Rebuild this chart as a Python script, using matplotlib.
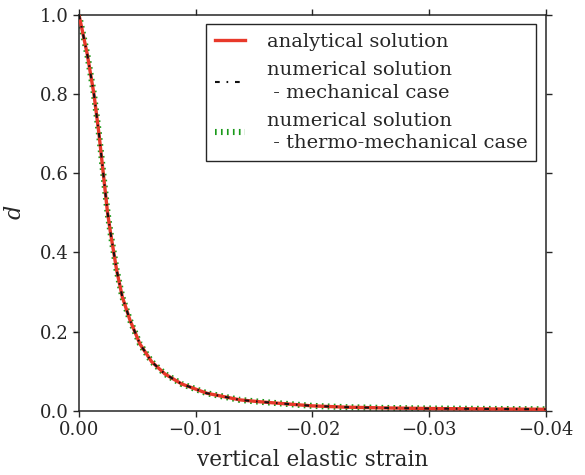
import matplotlib
matplotlib.use("Agg")
import matplotlib.pyplot as plt

# Damage variable d versus vertical elastic strain
strain = [0.0, -0.00071, -0.00128, -0.00171, -0.00208, -0.00245,
          -0.00271, -0.00323, -0.00371, -0.00437, -0.00522, -0.00623,
          -0.00737, -0.0088, -0.01094, -0.0138, -0.0155, -0.0178, -0.0200,
          -0.0229, -0.0260, -0.0301, -0.0350, -0.0386, -0.0400]
damage = [1.0, 0.9, 0.8, 0.7, 0.6, 0.5,
          0.448, 0.355, 0.288, 0.229, 0.169, 0.124,
          0.093, 0.068, 0.0446, 0.0277, 0.023, 0.0176, 0.0126,
          0.0093, 0.0075, 0.0059, 0.0049, 0.0043, 0.0040]

labels = ["analytical solution",
          "numerical solution\n - mechanical case",
          "numerical solution\n - thermo-mechanical case"]

x_ticks = [0.0, -0.01, -0.02, -0.03, -0.04]
y_ticks = [0.0, 0.2, 0.4, 0.6, 0.8, 1.0]

ink = "#262626"
plt.rcParams.update({
    "font.family": ["DejaVu Serif"],
    "mathtext.fontset": "dejavuserif",
    "lines.scale_dashes": False,
    "text.color": ink,
    "axes.labelcolor": ink,
    "xtick.color": ink,
    "ytick.color": ink,
    "axes.edgecolor": ink,
})

fig = plt.figure(figsize=(5.85, 4.75), dpi=100)
ax = fig.add_axes([0.135, 0.135, 0.798, 0.834])

ax.plot(strain, damage, color="#1a9a1a", lw=4.4, linestyle=(0, (1.2, 3.1)),
        zorder=2, label=labels[2])
ax.plot(strain, damage, color="#e8392a", lw=2.4, zorder=3, label=labels[0])
ax.plot(strain, damage, color="#111111", lw=1.5,
        linestyle=(0, (3.4, 4.9, 1.2, 4.9)), zorder=4, label=labels[1])

ax.set_xlim(0.0, -0.04)
ax.set_ylim(0.0, 1.0)
ax.set_xticks(x_ticks)
ax.set_yticks(y_ticks)
ax.set_xticklabels([f"{v:.2f}".replace("-", "\u2212") if v != 0 else "0.00" for v in x_ticks])
ax.set_yticklabels([f"{v:.1f}" for v in y_ticks])
ax.tick_params(direction="out", length=4.5, width=1, labelsize=13,
               top=True, right=True, pad=3)
for s in ax.spines.values():
    s.set_linewidth(1.1)

ax.set_xlabel("vertical elastic strain", fontsize=15.5, labelpad=7)
ax.set_ylabel("$d$", fontsize=16, labelpad=10)

handles, labs = ax.get_legend_handles_labels()
order = [1, 2, 0]
leg = ax.legend([handles[i] for i in order], [labs[i] for i in order],
                loc="upper right", fontsize=14, fancybox=False, framealpha=1,
                edgecolor=ink, borderaxespad=0.5, borderpad=0.45,
                handlelength=1.55, handletextpad=1.1, labelspacing=0.5)
for t in leg.get_texts():
    t.set_linespacing(1.35)
leg.get_frame().set_linewidth(1.0)

fig.savefig("out.png", dpi=100)
